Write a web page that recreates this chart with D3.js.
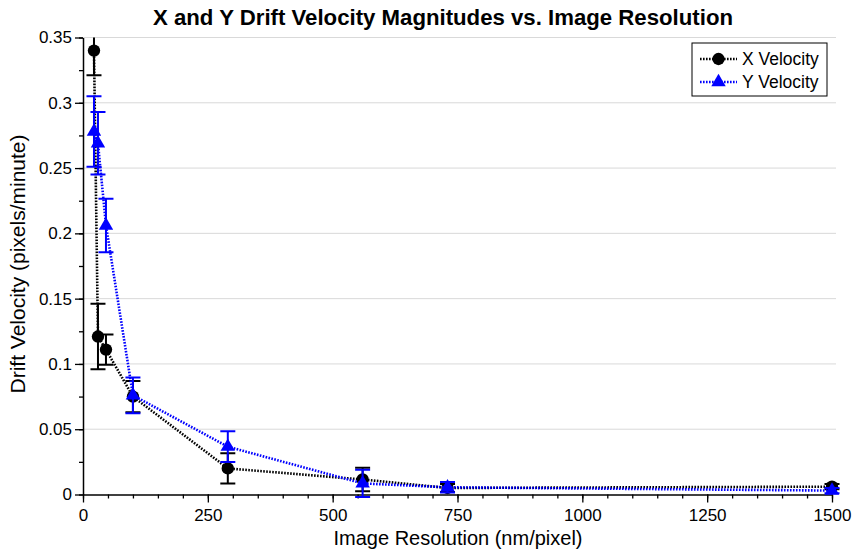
<!DOCTYPE html>
<html><head><meta charset="utf-8">
<script src="https://cdn.jsdelivr.net/npm/d3@7"></script>
<style>body{margin:0;background:#fff}</style>
</head><body><svg id="c" width="852" height="556"></svg>
<script>
const resolution = [22, 30, 46, 100, 290, 560, 730, 1500];
const xVelocity = [0.340, 0.121, 0.111, 0.075, 0.020, 0.0115, 0.005, 0.006];
const xError    = [0.019, 0.025, 0.0116, 0.012, 0.0115, 0.009, 0.003, 0.002];
const yVelocity = [0.278, 0.269, 0.206, 0.076, 0.0366, 0.0085, 0.0055, 0.003];
const yError    = [0.027, 0.024, 0.0205, 0.0137, 0.0118, 0.0105, 0.004, 0.002];
const xTicks = [0, 250, 500, 750, 1000, 1250, 1500];
const xMinorTicks = d3.range(0, 1501, 50);
const yTicks = [0, 0.05, 0.1, 0.15, 0.2, 0.25, 0.3, 0.35];
const yTickLabels = ["0", "0.05", "0.1", "0.15", "0.2", "0.25", "0.3", "0.35"];
const yMinorTicks = d3.range(0, 0.3501, 0.025);
const seriesNames = ["X Velocity", "Y Velocity"];
const seriesColors = ["#000000", "#0000ff"];

const svg = d3.select("#c");
const font = "'Liberation Sans', Arial, Helvetica, sans-serif";
const L = 83, R = 832, T = 37.5, B = 494.5;
const x = d3.scaleLinear().domain([0, 1500]).range([L, R]);
const y = d3.scaleLinear().domain([0, 0.35]).range([B, T]);

svg.append("rect").attr("width", 852).attr("height", 556).attr("fill", "#fff");

// grid
svg.append("g").selectAll("line").data(yTicks.filter(d => d > 0)).join("line")
  .attr("x1", L).attr("x2", 836).attr("y1", d => y(d)).attr("y2", d => y(d))
  .attr("stroke", "#d9d9d9").attr("stroke-width", 1);

// axes
const gx = svg.append("g").attr("transform", `translate(0,${B})`);
gx.call(d3.axisBottom(x).tickValues(xMinorTicks).tickSize(4).tickFormat(""));
gx.call(g => g.selectAll(".domain").remove());
const gx2 = svg.append("g").attr("transform", `translate(0,${B})`);
gx2.call(d3.axisBottom(x).tickValues(xTicks).tickSize(8).tickSizeOuter(0).tickPadding(6).tickFormat(d3.format("d")));
[gx, gx2].forEach(g => { g.selectAll("line").attr("stroke", "#000").attr("stroke-width", 1.3); });
gx2.select(".domain").attr("stroke", "#000").attr("stroke-width", 1.5);
gx2.selectAll("text").attr("font-family", font).attr("font-size", 17).attr("fill", "#000");

const gy = svg.append("g").attr("transform", `translate(${L},0)`);
gy.call(d3.axisLeft(y).tickValues(yMinorTicks).tickSize(4).tickFormat(""));
gy.call(g => g.selectAll(".domain").remove());
const gy2 = svg.append("g").attr("transform", `translate(${L},0)`);
gy2.call(d3.axisLeft(y).tickValues(yTicks).tickSize(8).tickSizeOuter(0).tickPadding(3)
  .tickFormat((d, i) => yTickLabels[i]));
[gy, gy2].forEach(g => { g.selectAll("line").attr("stroke", "#000").attr("stroke-width", 1.3); });
gy2.select(".domain").attr("stroke", "#000").attr("stroke-width", 1.5);
gy2.selectAll("text").attr("font-family", font).attr("font-size", 17).attr("fill", "#000");

// clip
svg.append("clipPath").attr("id", "clip").append("rect")
  .attr("x", L - 20).attr("y", T).attr("width", R - L + 40).attr("height", B - T + 10);

const plot = svg.append("g").attr("clip-path", "url(#clip)");
const series = [
  {vals: xVelocity, err: xError, color: seriesColors[0], sym: d3.symbolCircle, size: 120},
  {vals: yVelocity, err: yError, color: seriesColors[1], sym: d3.symbolTriangle, size: 90}
];
const capW = 7.5;
series.forEach(s => {
  const pts = resolution.map((r, i) => ({r, v: s.vals[i], e: s.err[i]}));
  const line = d3.line().x(d => x(d.r)).y(d => y(d.v));
  plot.append("path").datum(pts).attr("d", line).attr("fill", "none")
    .attr("stroke", s.color).attr("stroke-width", 2.6).attr("stroke-dasharray", "1.6,1.4");
  const eb = plot.append("g").attr("stroke", s.color).attr("stroke-width", 2);
  eb.selectAll(".v").data(pts).join("line")
    .attr("x1", d => x(d.r)).attr("x2", d => x(d.r))
    .attr("y1", d => y(d.v - d.e)).attr("y2", d => y(d.v + d.e));
  eb.selectAll(".t").data(pts).join("line")
    .attr("x1", d => x(d.r) - capW).attr("x2", d => x(d.r) + capW)
    .attr("y1", d => y(d.v + d.e)).attr("y2", d => y(d.v + d.e));
  eb.selectAll(".b").data(pts).join("line")
    .attr("x1", d => x(d.r) - capW).attr("x2", d => x(d.r) + capW)
    .attr("y1", d => y(d.v - d.e)).attr("y2", d => y(d.v - d.e));
  plot.append("g").selectAll("path").data(pts).join("path")
    .attr("transform", d => `translate(${x(d.r)},${y(d.v)})`)
    .attr("d", d3.symbol().type(s.sym).size(s.size)).attr("fill", s.color);
});

// title
svg.append("text").attr("x", 443).attr("y", 25).attr("text-anchor", "middle")
  .attr("font-family", font).attr("font-weight", "bold").attr("font-size", 22)
  .attr("textLength", 580).attr("lengthAdjust", "spacingAndGlyphs")
  .text("X and Y Drift Velocity Magnitudes vs. Image Resolution");
svg.append("text").attr("x", 458).attr("y", 545).attr("text-anchor", "middle")
  .attr("font-family", font).attr("font-size", 20)
  .text("Image Resolution (nm/pixel)");
svg.append("text").attr("transform", `translate(25,264) rotate(-90)`).attr("text-anchor", "middle")
  .attr("font-family", font).attr("font-size", 21)
  .text("Drift Velocity (pixels/minute)");

// legend
const lg = svg.append("g");
lg.append("rect").attr("x", 692).attr("y", 43).attr("width", 135).attr("height", 53)
  .attr("fill", "#fff").attr("stroke", "#000").attr("stroke-width", 1);
series.forEach((s, i) => {
  const ly = 59 + i * 23;
  lg.append("line").attr("x1", 700).attr("x2", 737).attr("y1", ly).attr("y2", ly)
    .attr("stroke", s.color).attr("stroke-width", 2.6).attr("stroke-dasharray", "1.6,1.4");
  lg.append("path").attr("transform", `translate(718.5,${ly})`)
    .attr("d", d3.symbol().type(s.sym).size(s.size)).attr("fill", s.color);
  lg.append("text").attr("x", 742).attr("y", ly + 6).attr("font-family", font)
    .attr("font-size", 17.5).text(seriesNames[i]);
});
</script></body></html>
